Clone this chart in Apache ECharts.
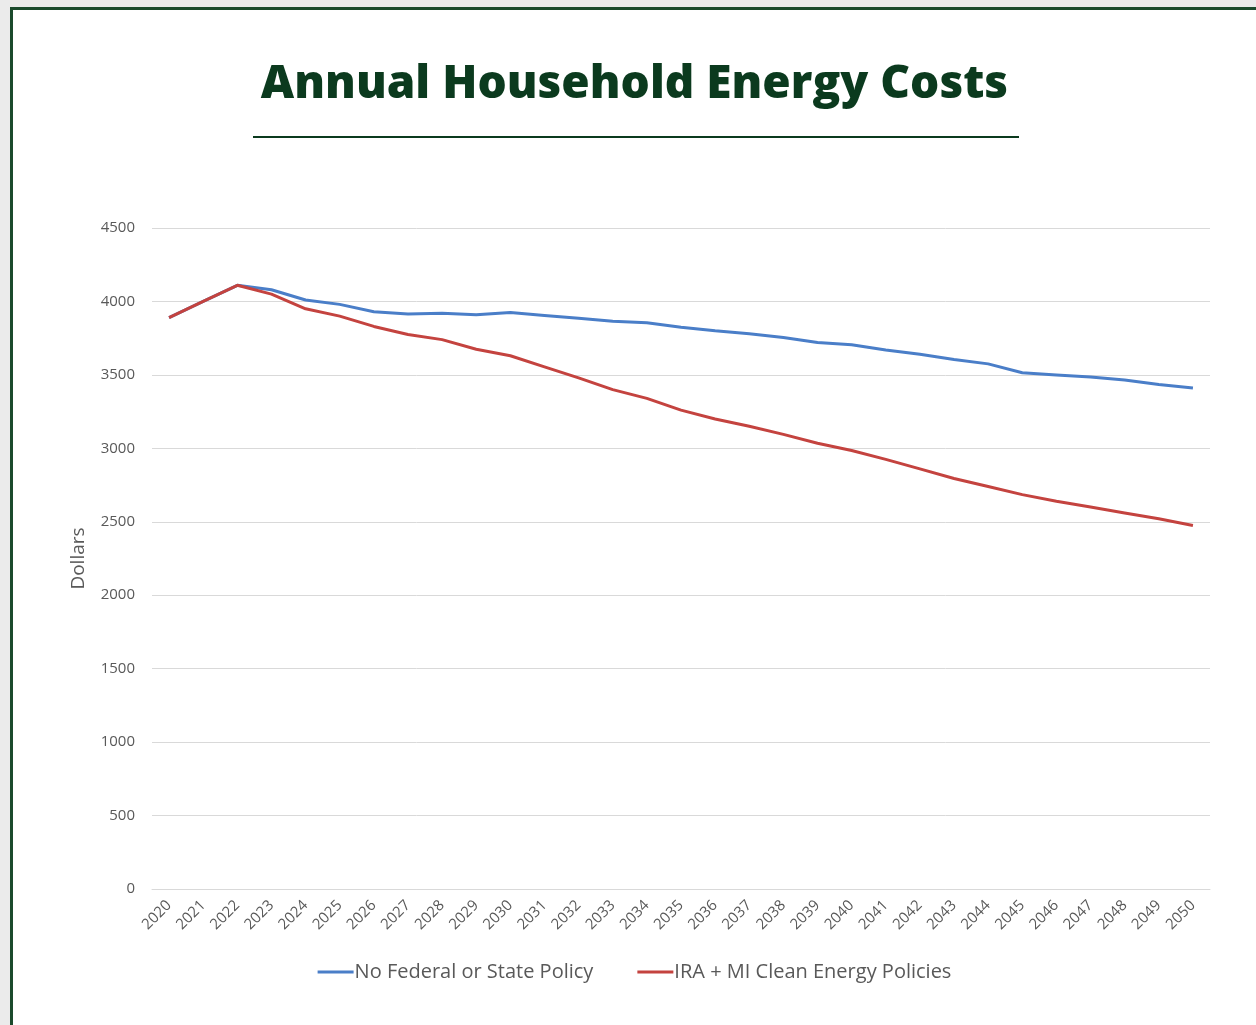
<!DOCTYPE html>
<html>
<head>
<meta charset="utf-8">
<script src="https://cdn.jsdelivr.net/npm/echarts@6/dist/echarts.min.js"></script>
<style>
  html, body { margin: 0; padding: 0; background: #ebebeb; }
  #chart {
    position: absolute; left: 10px; top: 7px;
    width: 1246px; height: 1018px; box-sizing: border-box;
    border-left: 3px solid #1b4a2c; border-top: 3px solid #1b4a2c;
    background: #fff;
  }
</style>
</head>
<body>
<div id="chart"></div>
<script>
// years on the x axis
var years = ['2020','2021','2022','2023','2024','2025','2026','2027','2028','2029','2030',
  '2031','2032','2033','2034','2035','2036','2037','2038','2039','2040',
  '2041','2042','2043','2044','2045','2046','2047','2048','2049','2050'];

// No Federal or State Policy
var noPolicy = [3890, 4000, 4110, 4080, 4010, 3980, 3930, 3915, 3920, 3910, 3925,
  3905, 3885, 3865, 3855, 3825, 3800, 3780, 3755, 3720, 3705,
  3670, 3640, 3605, 3575, 3515, 3500, 3485, 3465, 3435, 3410];

// IRA + MI Clean Energy Policies
var iraPolicy = [3890, 4000, 4110, 4050, 3950, 3900, 3830, 3775, 3740, 3675, 3630,
  3555, 3480, 3400, 3340, 3260, 3200, 3150, 3095, 3035, 2985,
  2925, 2860, 2795, 2740, 2685, 2640, 2600, 2560, 2520, 2475];

var seriesNames = ['No Federal or State Policy', 'IRA + MI Clean Energy Policies'];

var myChart = echarts.init(document.getElementById('chart'));
var option = {
  backgroundColor: '#fff',
  title: {
    text: 'Annual Household Energy Costs',
    left: 'center',
    top: 47,
    textStyle: {
      fontFamily: 'Open Sans',
      fontWeight: 800,
      fontSize: 46,
      color: '#0b3a1e'
    }
  },
  graphic: [{
    type: 'line',
    shape: { x1: 240, y1: 127, x2: 1006, y2: 127 },
    style: { stroke: '#0b3a1e', lineWidth: 2 }
  }],
  legend: {
    bottom: 38,
    left: 'center',
    itemWidth: 36,
    itemHeight: 3,
    itemGap: 44,
    icon: 'rect',
    textStyle: { fontFamily: 'Open Sans', fontSize: 20, color: '#595959', padding: [0, 0, 0, -4] },
    data: seriesNames
  },
  grid: { left: 139, right: 46, top: 218, bottom: 136 },
  xAxis: {
    type: 'category',
    data: years,
    boundaryGap: true,
    axisLine: { lineStyle: { color: '#d9d9d9', width: 1 } },
    axisTick: { show: false },
    axisLabel: {
      rotate: 45,
      interval: 0,
      margin: 14,
      fontFamily: 'Open Sans',
      fontSize: 15,
      color: '#595959'
    }
  },
  yAxis: {
    type: 'value',
    min: 0,
    max: 4500,
    interval: 500,
    name: 'Dollars',
    nameLocation: 'middle',
    nameGap: 64,
    nameTextStyle: { fontFamily: 'Open Sans', fontSize: 19, color: '#595959' },
    axisLine: { show: false },
    axisTick: { show: false },
    axisLabel: {
      fontFamily: 'Open Sans', fontSize: 15, color: '#595959', margin: 17,
      formatter: function (v) { return String(v); }
    },
    splitLine: { lineStyle: { color: '#d9d9d9', width: 1 } }
  },
  series: [
    {
      name: seriesNames[0],
      type: 'line',
      data: noPolicy,
      symbol: 'none',
      lineStyle: { color: '#4a7ec8', width: 3 },
      itemStyle: { color: '#4a7ec8' },
      z: 2
    },
    {
      name: seriesNames[1],
      type: 'line',
      data: iraPolicy,
      symbol: 'none',
      lineStyle: { color: '#c4433f', width: 3 },
      itemStyle: { color: '#c4433f' },
      z: 3
    }
  ]
};
myChart.setOption(option);
</script>
</body>
</html>
